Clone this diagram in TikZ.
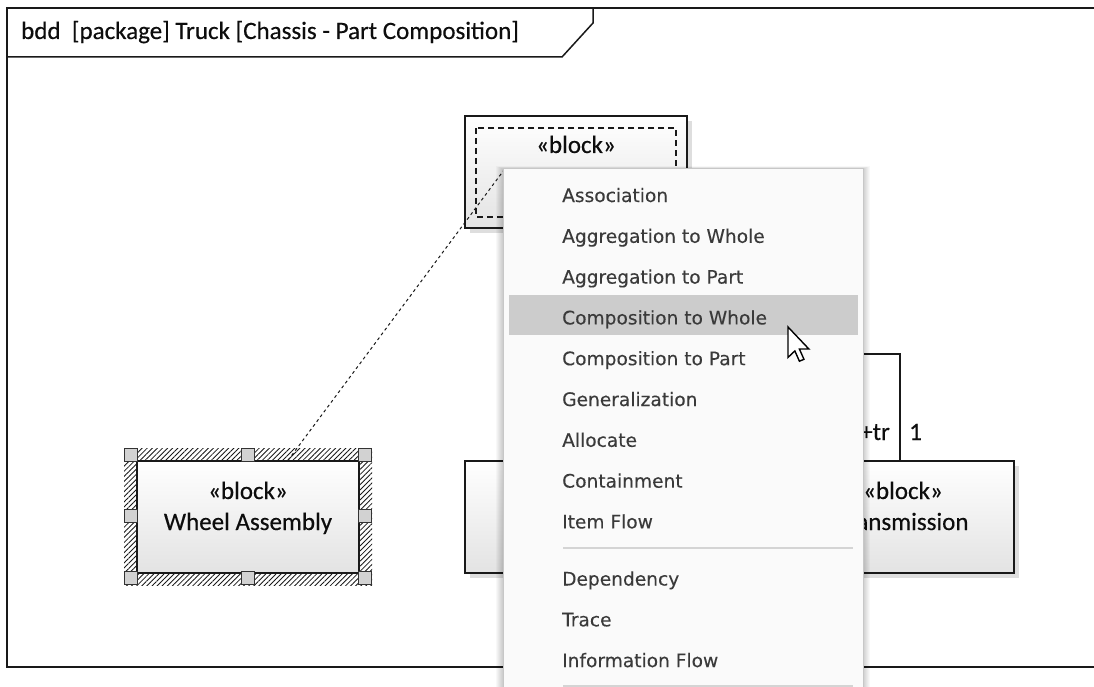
\documentclass[tikz,border=0pt]{standalone}
\usepackage{fontspec}
\setmainfont{Carlito}[FakeBold=0.35]
\newfontfamily\menufont{DejaVu Sans}[FakeBold=0.25]
\usetikzlibrary{shadows,patterns.meta,calc}
\definecolor{menutext}{RGB}{58,58,58}
\definecolor{menubg}{RGB}{250,250,250}
\definecolor{hilite}{RGB}{204,204,204}
\definecolor{sepline}{RGB}{212,212,212}
\definecolor{handlefill}{RGB}{210,210,210}
\newcommand\dgfont{\fontsize{25}{30}\selectfont}
\newcommand\mnfont{\menufont\fontsize{18.6}{22}\selectfont}
\tikzset{
  blockbox/.style={draw=black!90, line width=1.4pt, top color=white, bottom color=black!11,
    minimum width=222pt, minimum height=112pt, inner sep=0pt,
    drop shadow={shadow xshift=5pt, shadow yshift=-5pt, fill=black!13, opacity=1}},
  plainbox/.style={draw=black!90, line width=1.4pt, top color=white, bottom color=black!11,
    minimum width=222pt, minimum height=112pt, inner sep=0pt},
  dgtext/.style={font=\dgfont, text=black!95, inner sep=0pt, anchor=base},
  mnitem/.style={font=\mnfont, text=menutext, inner sep=0pt, anchor=base west},
  handle/.style={draw=black!80, fill=handlefill, line width=1.2pt, minimum size=13pt, inner sep=0pt},
  dragline/.style={draw=black!90, line width=1pt, dash pattern=on 3pt off 3pt},
  conn/.style={draw=black!90, line width=1.4pt},
  framestyle/.style={draw=black!90, line width=1.5pt}
}
\begin{document}
\begin{tikzpicture}[x=1pt,y=-1pt]
\useasboundingbox[fill=white] (0,0) rectangle (1094,687);

% frame
\draw[framestyle] (1100,8) -- (7,8) -- (7,667) -- (1100,667);
\draw[framestyle] (7,57) -- (562,57) -- (593,23) -- (593,8);
\node[dgtext, anchor=base west] (title) at (21,39) {bdd \ [package] Truck [Chassis - Part Composition]};

% top block
\node[blockbox] (chassis) at (576,172) {};
\draw[black!90, line width=1.2pt, dash pattern=on 6pt off 4pt] (476,128) rectangle (676,217);
\node[dgtext] (chassisst) at (576,153) {«block»};

% lower left block (mostly hidden)
\node[blockbox] (leftblk) at (576,517) {};

% transmission block
\node[blockbox] (trans) at (903,517) {};
\node[dgtext] (transst) at (903,499) {«block»};
\node[dgtext] (transnm) at (903,530) {Transmission};

% wheel assembly block, selected
\fill[pattern={Lines[angle=45,distance=3.6pt,line width=0.85pt]}, pattern color=black!90] (124,448) rectangle (372,585);
\node[plainbox] (wheel) at (248,517) {};
\node[dgtext] (wheelst) at (248,499) {«block»};
\node[dgtext] (wheelnm) at (248,530) {Wheel Assembly};
\foreach \hx/\hy [count=\i] in {131/455,248/455,365/455,131/516,365/516,131/578,248/578,365/578}
  \node[handle] (h\i) at (\hx,\hy) {};

% composition connector (to Transmission)
\coordinate (bend) at (900,354);
\draw[conn] (chassis.south) |- (bend) -- (bend |- trans.north);
\node[dgtext, anchor=base east] (rolename) at (890,440) {+tr};
\node[dgtext, anchor=base west] (mult) at (909,440) {1};

% connector being drawn
\coordinate (dragend) at (504,170);
\draw[dragline] ($(wheel.north)+(40,0)$) -- (dragend);

% context menu shadow
\foreach \s in {1,...,7}
  \fill[black, opacity=0.028] (503-\s,169-\s*0.4) rectangle (863+\s,700);
% context menu
\node[draw=black!22, fill=menubg, line width=1pt, minimum width=360pt, minimum height=531pt, inner sep=0pt] (menu) at (683,434.5) {};
\fill[hilite] (509,295) rectangle (858,335);
\node[mnitem] (m1) at (562,202) {Association};
\node[mnitem] (m2) at (562,242.8) {Aggregation to Whole};
\node[mnitem] (m3) at (562,283.6) {Aggregation to Part};
\node[mnitem] (m4) at (562,324.4) {Composition to Whole};
\node[mnitem] (m5) at (562,365.2) {Composition to Part};
\node[mnitem] (m6) at (562,406) {Generalization};
\node[mnitem] (m7) at (562,446.8) {Allocate};
\node[mnitem] (m8) at (562,487.6) {Containment};
\node[mnitem] (m9) at (562,528.4) {Item Flow};
\draw[sepline, line width=1.3pt] (563,548) -- (853,548);
\node[mnitem] (m10) at (562,585.5) {Dependency};
\node[mnitem] (m11) at (562,626.3) {Trace};
\node[mnitem] (m12) at (562,667.1) {Information Flow};
\draw[sepline, line width=1.3pt] (563,686) -- (853,686);

% mouse cursor
\begin{scope}[shift={(788,327)}, scale=1.9]
\filldraw[fill=white, draw=black, line width=1.4pt, line join=miter]
  (0,0) -- (0,16) -- (3.6,12.6) -- (6,18) -- (8.4,17) -- (6,11.6) -- (11,11.6) -- cycle;
\end{scope}
\end{tikzpicture}
\end{document}
